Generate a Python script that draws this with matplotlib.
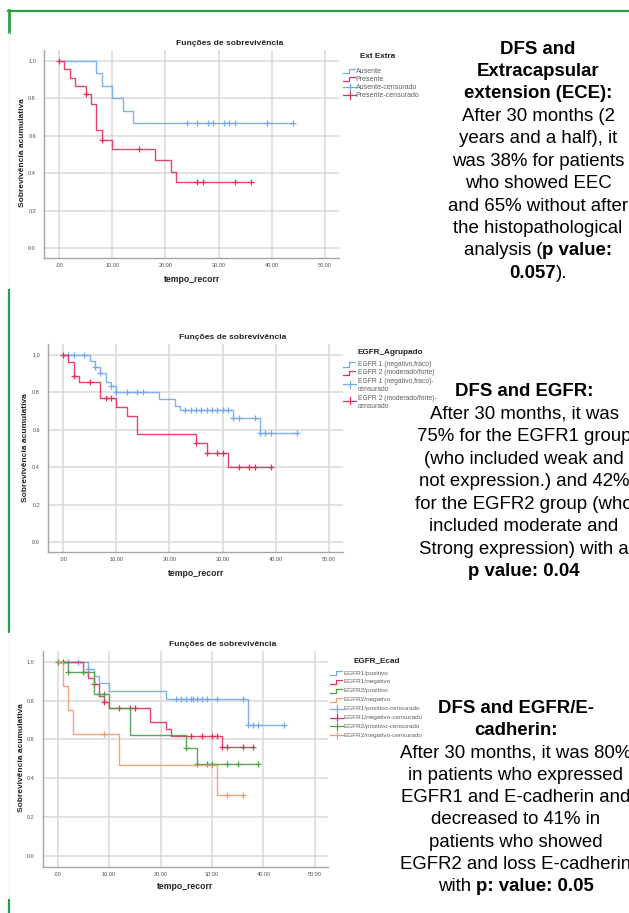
import numpy as np
import matplotlib
matplotlib.use('Agg')
import matplotlib.pyplot as plt
from matplotlib.lines import Line2D

plt.rcParams['font.family'] = ['Liberation Sans', 'DejaVu Sans']

# ---------------- data ----------------
x_ticks = [0, 10, 20, 30, 40, 50]
x_tick_labels = ['.00', '10.00', '20.00', '30.00', '40.00', '50.00']
y_ticks = [0.0, 0.2, 0.4, 0.6, 0.8, 1.0]
y_tick_labels = ['0.0', '0.2', '0.4', '0.6', '0.8', '1.0']

# panel 1 - Ext Extra
ece_aus_t = [7, 8, 10, 12, 14]
ece_aus_s = [0.933, 0.867, 0.800, 0.733, 0.667]
ece_aus_cens = [24, 26, 28, 29, 31, 32, 33, 39, 44]
ece_pre_t = [1, 2, 3, 5, 6, 7, 8, 10, 18, 21, 22]
ece_pre_s = [0.956, 0.909, 0.865, 0.820, 0.769, 0.629, 0.579, 0.527, 0.467, 0.408, 0.352]
ece_pre_cens = [0, 5, 8, 15, 26, 27, 33, 36]

# panel 2 - EGFR_Agrupado
egfr1_t = [5, 6, 7, 8, 9, 10, 18, 21, 22, 32, 37]
egfr1_s = [0.968, 0.934, 0.904, 0.853, 0.833, 0.800, 0.762, 0.725, 0.706, 0.665, 0.583]
egfr1_cens = [1, 2, 4, 6, 7, 9, 10, 12, 14, 15, 23, 24, 25, 26, 27, 28, 29, 30, 31,
              32, 33, 36, 37, 38, 39, 44]
egfr2_t = [1, 2, 3, 7, 10, 12, 14, 25, 27, 31]
egfr2_s = [0.961, 0.888, 0.853, 0.770, 0.722, 0.674, 0.576, 0.530, 0.477, 0.399]
egfr2_cens = [0, 2, 5, 8, 9, 25, 27, 29, 30, 33, 35, 36, 39]

# panel 3 - EGFR_Ecad
e1p_t = [6, 7, 8, 10, 21, 37]
e1p_s = [0.964, 0.926, 0.890, 0.849, 0.809, 0.673]
e1p_cens = [2, 4, 6, 23, 24, 25, 26, 26.3, 27, 28, 29, 31, 36, 37, 38, 39, 44]
e1n_t = [5, 6, 7, 8, 9, 10, 18, 21, 22, 32]
e1n_s = [0.947, 0.914, 0.883, 0.823, 0.794, 0.763, 0.689, 0.655, 0.619, 0.560]
e1n_cens = [1, 7, 9, 12, 14, 15, 26, 28, 30, 31, 32, 33, 36, 38]
e2p_t = [2, 7, 10, 14, 25, 27]
e2p_s = [0.948, 0.832, 0.763, 0.622, 0.555, 0.472]
e2p_cens = [0, 2, 5, 8, 9, 25, 27, 29, 30, 33, 35, 39]
e2n_t = [1, 2, 3, 12, 31]
e2n_s = [0.875, 0.750, 0.625, 0.469, 0.313]
e2n_cens = [9, 33, 36]

BLUE = '#74a9ee'
RED = '#e5305a'
GREEN = '#4e9e4a'
ORANGE = '#f7996a'
BORDER = '#2e9e44'
BODY = 13.4   # right-hand text size

W, H = 629, 913
fig = plt.figure(figsize=(W / 100, H / 100), dpi=100)


def fx(x):
    return x / W


def fy(y):
    return 1 - y / H


def px_axes(l, t, r, b):
    return fig.add_axes([fx(l), fy(b), (r - l) / W, (b - t) / H])


def surv_at(t, times, surv):
    i = np.searchsorted(times, t, side='right')
    return 1.0 if i == 0 else surv[i - 1]


def km(ax, times, surv, cens, color):
    end = max(max(cens), max(times))
    xs = [0] + times + [end]
    ys = [1.0] + surv + [surv[-1]]
    ax.plot(xs, ys, drawstyle='steps-post', color=color, lw=1.0, alpha=0.9)
    cy = [surv_at(c, times, surv) for c in cens]
    ax.plot(cens, cy, ls='none', marker='+', ms=4.5, mew=0.9, color=color)


def setup(ax, xlim=(-2.75, 52.6), ylim=(-0.052, 1.057)):
    ax.set_xlim(*xlim)
    ax.set_ylim(*ylim)
    ax.set_xticks(x_ticks)
    ax.set_xticklabels(x_tick_labels)
    ax.set_yticks(y_ticks)
    ax.set_yticklabels(y_tick_labels)
    ax.grid(True, color='#dcdcdc', lw=1.2)
    ax.set_axisbelow(True)
    for s in ['top', 'right']:
        ax.spines[s].set_visible(False)
    for s in ['left', 'bottom']:
        ax.spines[s].set_color('#a5a5a5')
        ax.spines[s].set_linewidth(1.0)
    ax.tick_params(length=0, labelsize=4, colors='#505050')
    ax.tick_params(axis='x', pad=3.5)
    ax.tick_params(axis='y', pad=6)


def labels(title_xy, ylab_xy, xlab_xy):
    fig.text(fx(title_xy[0]), fy(title_xy[1]), 'Funções de sobrevivência',
             ha='center', va='center', fontsize=6.1, fontweight='bold', color='#222')
    fig.text(fx(ylab_xy[0]), fy(ylab_xy[1]), 'Sobrevivência acumulativa', rotation=90,
             ha='center', va='center', fontsize=6.0, fontweight='bold', color='#222')
    fig.text(fx(xlab_xy[0]), fy(xlab_xy[1]), 'tempo_recorr',
             ha='center', va='center', fontsize=6.2, fontweight='bold', color='#222')


def step_icon(x, y, color):
    xs = [x, x + 6, x + 6, x + 12]
    ys = [y + 2, y + 2, y - 2, y - 2]
    fig.add_artist(Line2D([fx(v) for v in xs], [fy(v) for v in ys], color=color, lw=0.9))


def cross_icon(x, y, color):
    fig.add_artist(Line2D([fx(x), fx(x + 13)], [fy(y), fy(y)], color=color, lw=0.9))
    fig.add_artist(Line2D([fx(x + 6.5), fx(x + 6.5)], [fy(y - 3.5), fy(y + 3.5)],
                          color=color, lw=0.9))


def legend_title(xy, title):
    fig.text(fx(xy[0]), fy(xy[1]), title, ha='center', va='center',
             fontsize=5.9, fontweight='bold', color='#222')


def legend_rows(x_icon, x_text, rows, size):
    # rows: (y, text, colour, kind); kind None means a wrapped continuation line
    for y, txt, color, kind in rows:
        if kind == 'step':
            step_icon(x_icon, y, color)
        elif kind == 'cross':
            cross_icon(x_icon, y, color)
        elif kind == 'cross2':
            cross_icon(x_icon, y + 3, color)
        fig.text(fx(x_text), fy(y), txt, ha='left', va='center', fontsize=size, color='#606060')


renderer = fig.canvas.get_renderer()


def text_width(s, weight, size):
    t = fig.text(0, 0, s, fontsize=size, fontweight=weight)
    w = t.get_window_extent(renderer).width
    t.remove()
    return w


def rich_line(cx, y, parts, size):
    gap = text_width('a a', 'normal', size) - text_width('aa', 'normal', size)
    pieces = []
    for s, w in parts:
        lead = s.endswith(' ')
        pieces.append((s.rstrip(' '), w, gap if lead else 0.0))
    widths = [text_width(s, w, size) + g for s, w, g in pieces]
    x = cx - sum(widths) / 2
    for (s, w, g), wd in zip(pieces, widths):
        fig.text(fx(x), fy(y), s, ha='left', va='center', fontsize=size,
                 fontweight=w, color='black')
        x += wd


def text_block(cx, y0, dy, lines, size=BODY):
    for i, parts in enumerate(lines):
        if isinstance(parts, str):
            parts = [(parts, 'normal')]
        rich_line(cx, y0 + i * dy, parts, size)


# ---------------- green slide borders ----------------
fig.add_artist(Line2D([fx(8), fx(629)], [fy(11), fy(11)], color=BORDER, lw=1.6))
fig.add_artist(Line2D([fx(9), fx(9)], [fy(10.5), fy(32)], color=BORDER, lw=2.0))
fig.add_artist(Line2D([fx(8.5), fx(8.5)], [fy(32), fy(290)], color='#e3f1e6', lw=0.4))
fig.add_artist(Line2D([fx(9.3), fx(9.3)], [fy(290), fy(632)], color=BORDER, lw=1.6))
fig.add_artist(Line2D([fx(8.5), fx(8.5)], [fy(632), fy(900)], color='#e3f1e6', lw=0.4))
fig.add_artist(Line2D([fx(8.5), fx(8.5)], [fy(900), fy(913)], color=BORDER, lw=1.6))

# ---------------- panel 1 ----------------
ax1 = px_axes(44.3, 50, 339, 257.7)
setup(ax1)
km(ax1, ece_aus_t, ece_aus_s, ece_aus_cens, BLUE)
km(ax1, ece_pre_t, ece_pre_s, ece_pre_cens, RED)
labels((230, 43.7), (22.7, 153), (191.7, 280))
legend_title((378, 57), 'Ext Extra')
legend_rows(343, 355.5, [
    (71.5, 'Ausente', BLUE, 'step'),
    (79.5, 'Presente', RED, 'step'),
    (87.5, 'Ausente-censurado', BLUE, 'cross'),
    (95.5, 'Presente-censurado', RED, 'cross'),
], 5.0)
text_block(538, 49, 22.43, [
    [('DFS and', 'bold')],
    [('Extracapsular', 'bold')],
    [('extension (ECE):', 'bold')],
    'After 30 months (2',
    'years and a half), it',
    'was 38% for patients',
    'who showed EEC',
    'and 65% without after',
    'the histopathological',
    [('analysis (', 'normal'), ('p value:', 'bold')],
    [('0.057', 'bold'), (').', 'normal')],
])

# ---------------- panel 2 ----------------
ax2 = px_axes(48.3, 344.3, 343, 551.7)
setup(ax2)
km(ax2, egfr1_t, egfr1_s, egfr1_cens, BLUE)
km(ax2, egfr2_t, egfr2_s, egfr2_cens, RED)
labels((233, 337.3), (26, 448), (195.7, 574))
legend_title((390, 352.5), 'EGFR_Agrupado')
legend_rows(343, 358, [
    (364.5, 'EGFR 1 (negativo,fraco)', BLUE, 'step'),
    (373, 'EGFR 2 (moderado/forte)', RED, 'step'),
    (381.5, 'EGFR 1 (negativo,fraco)-', BLUE, 'cross2'),
    (389.3, 'censurado', None, None),
    (398, 'EGFR 2 (moderado/forte)-', RED, 'cross2'),
    (406, 'censurado', None, None),
], 4.85)
text_block(524, 391.7, 22.5, [
    [('DFS and EGFR:', 'bold')],
    'After 30 months, it was',
    '75% for the EGFR1 group',
    '(who included weak and',
    'not expression.) and 42%',
    'for the EGFR2 group (who',
    'included moderate and',
    'Strong expression) with a',
    [('p value: 0.04', 'bold')],
])

# ---------------- panel 3 ----------------
ax3 = px_axes(42.7, 650.7, 328.3, 866.7)
setup(ax3, xlim=(-2.9, 52.6), ylim=(-0.057, 1.057))
km(ax3, e1p_t, e1p_s, e1p_cens, BLUE)
km(ax3, e1n_t, e1n_s, e1n_cens, RED)
km(ax3, e2p_t, e2p_s, e2p_cens, GREEN)
km(ax3, e2n_t, e2n_s, e2n_cens, ORANGE)
labels((222.7, 644), (21.7, 758), (185, 886.7))
legend_title((376.5, 661), 'EGFR_Ecad')
leg3_names = ['EGFR1/positivo', 'EGFR1/negativo', 'EGFR2/positivo', 'EGFR2/negativo',
              'EGFR1/positivo-censurado', 'EGFR1/negativo-censurado',
              'EGFR2/positivo-censurado', 'EGFR2/negativo-censurado']
leg3_colors = [BLUE, RED, GREEN, ORANGE] * 2
leg3_kinds = ['step'] * 4 + ['cross'] * 4
legend_rows(330, 343.5, [(673 + i * 8.9, n, c, k) for i, (n, c, k)
                         in enumerate(zip(leg3_names, leg3_colors, leg3_kinds))], 4.6)
text_block(516, 708.3, 22.3, [
    [('DFS and EGFR/E-', 'bold')],
    [('cadherin:', 'bold')],
    'After 30 months, it was 80%',
    'in patients who expressed',
    'EGFR1 and E-cadherin and',
    'decreased to 41% in',
    'patients who showed',
    'EGFR2 and loss E-cadherin',
    [('with ', 'normal'), ('p: value: 0.05', 'bold')],
])

fig.savefig('out.png', dpi=100)
